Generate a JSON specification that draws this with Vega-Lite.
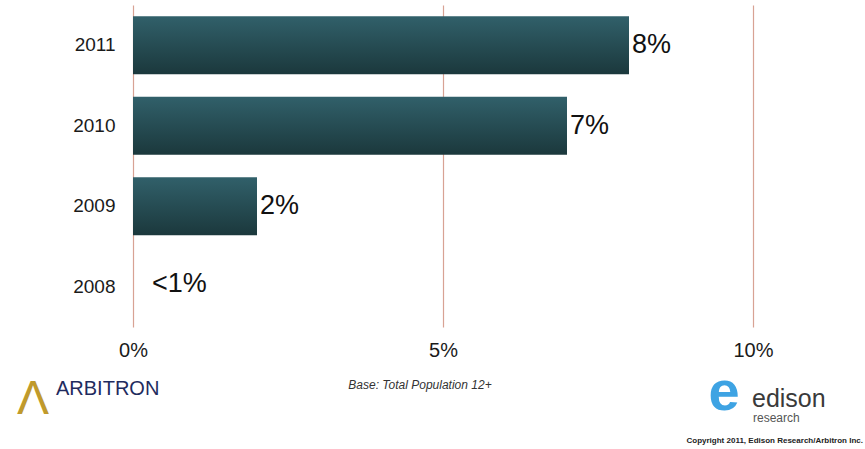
{
  "$schema": "https://vega.github.io/schema/vega-lite/v6.json",
  "autosize": {"type": "none"},
  "padding": {"left": 133, "top": 5, "right": 112, "bottom": 122},
  "width": 620,
  "height": 322,
  "background": "white",
  "config": {"view": {"stroke": null}, "font": "Liberation Sans", "axisX": {"gridColor": "#d8a294", "gridOpacity": 1}},
  "data": {"values": [
    {"year": "2011", "value": 8, "label": "8%"},
    {"year": "2010", "value": 7, "label": "7%"},
    {"year": "2009", "value": 2, "label": "2%"},
    {"year": "2008", "value": 0, "label": "<1%"}
  ]},
  "encoding": {
    "y": {"field": "year", "type": "nominal", "sort": ["2011", "2010", "2009", "2008"],
      "scale": {"paddingInner": 0.28, "paddingOuter": 0.14},
      "axis": {"title": null, "domain": false, "ticks": false, "labelFontSize": 19, "labelPadding": 18, "labelColor": "#1a1a1a", "labelFont": "Liberation Sans"}},
    "x": {"field": "value", "type": "quantitative",
      "scale": {"domain": [0, 10], "nice": false},
      "axis": {"title": null, "values": [0, 5, 10], "labelExpr": "datum.value + '%'", "grid": true, "gridColor": "#d8a294", "gridOpacity": 1, "gridWidth": 1.2, "domain": false, "ticks": false, "labelFlush": false, "labelAlign": "center", "labelFontSize": 20, "labelPadding": 13, "labelColor": "#1a1a1a", "labelFont": "Liberation Sans"}}
  },
  "layer": [
    {"mark": {"type": "bar", "color": {"gradient": "linear", "x1": 0, "y1": 0, "x2": 0, "y2": 1, "stops": [{"offset": 0, "color": "#31606a"}, {"offset": 1, "color": "#1b383c"}]}}},
    {"transform": [{"filter": "datum.year != '2008'"}],
      "mark": {"type": "text", "align": "left", "baseline": "middle", "dx": 3, "fontSize": 27, "color": "#111111"},
      "encoding": {"text": {"field": "label"}}},
    {"transform": [{"filter": "datum.year == '2008'"}],
      "mark": {"type": "text", "align": "left", "baseline": "middle", "dx": 19, "dy": -3, "fontSize": 27, "color": "#111111"},
      "encoding": {"text": {"field": "label"}}},
    {"data": {"values": [{"t": "Base: Total Population 12+"}]},
      "mark": {"type": "text", "x": 287, "y": 380, "align": "center", "baseline": "middle", "fontSize": 12, "fontStyle": "italic", "color": "#333333"},
      "encoding": {"text": {"field": "t"}, "x": null, "y": null}},
    {"data": {"values": [{"t": "ARBITRON"}]},
      "mark": {"type": "text", "x": -77, "y": 384, "align": "left", "baseline": "middle", "fontSize": 20, "color": "#1f2b5e"},
      "encoding": {"text": {"field": "t"}, "x": null, "y": null}},
    {"data": {"values": [{"t": "Λ"}]},
      "mark": {"type": "text", "x": -100, "y": 395, "align": "center", "baseline": "middle", "fontSize": 48, "color": "#c09a2c"},
      "encoding": {"text": {"field": "t"}, "x": null, "y": null}},
    {"data": {"values": [{"t": "e"}]},
      "mark": {"type": "text", "x": 591, "y": 388, "align": "center", "baseline": "middle", "fontSize": 56, "fontWeight": "bold", "color": "#3ea3e3"},
      "encoding": {"text": {"field": "t"}, "x": null, "y": null}},
    {"data": {"values": [{"t": "edison"}]},
      "mark": {"type": "text", "x": 619, "y": 394, "align": "left", "baseline": "middle", "fontSize": 25, "color": "#3a3a3a"},
      "encoding": {"text": {"field": "t"}, "x": null, "y": null}},
    {"data": {"values": [{"t": "research"}]},
      "mark": {"type": "text", "x": 620, "y": 413, "align": "left", "baseline": "middle", "fontSize": 12, "color": "#555555"},
      "encoding": {"text": {"field": "t"}, "x": null, "y": null}},
    {"data": {"values": [{"t": "Copyright 2011, Edison Research/Arbitron Inc."}]},
      "mark": {"type": "text", "x": 730, "y": 436, "align": "right", "baseline": "middle", "fontSize": 8, "fontWeight": "bold", "color": "#222222"},
      "encoding": {"text": {"field": "t"}, "x": null, "y": null}}
  ]
}
